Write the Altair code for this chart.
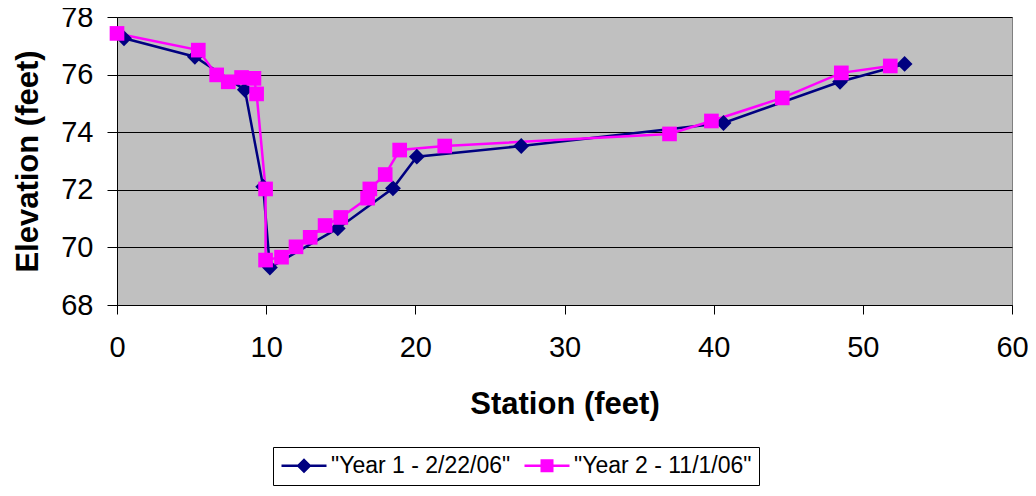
import altair as alt
import pandas as pd

series_names = ['"Year 1 - 2/22/06"', '"Year 2 - 11/1/06"']
series_colors = ["#000080", "#FF00FF"]

y1_station = [0.47, 5.22, 8.57, 9.8, 10.25, 14.8, 18.5, 20.1, 27.1, 40.66, 48.47, 52.8]
y1_elev = [77.26, 76.62, 75.47, 72.11, 69.3, 70.66, 72.05, 73.15, 73.52, 74.32, 75.75, 76.37]

y2_station = [0.0, 5.45, 6.68, 7.46, 8.35, 9.18, 9.36, 9.96, 9.96, 11.03, 12.0, 12.95,
              13.95, 15.0, 16.8, 16.95, 17.98, 18.95, 21.97, 37.04, 39.85, 44.6, 48.56, 51.84]
y2_elev = [77.43, 76.85, 75.99, 75.75, 75.9, 75.87, 75.33, 72.03, 69.56, 69.66, 70.02, 70.35,
           70.76, 71.04, 71.71, 72.03, 72.53, 73.38, 73.52, 73.94, 74.39, 75.19, 76.06, 76.3]

x_ticks = [0, 10, 20, 30, 40, 50, 60]
y_ticks = [68, 70, 72, 74, 76, 78]

FONT = "Liberation Sans, Arial, sans-serif"

rows = []
for i, (s, e) in enumerate(zip(y1_station, y1_elev)):
    rows.append({"series": series_names[0], "station": s, "elev": e, "idx": i})
for i, (s, e) in enumerate(zip(y2_station, y2_elev)):
    rows.append({"series": series_names[1], "station": s, "elev": e, "idx": i})
df = pd.DataFrame(rows)

# legend-only rows (no position -> not drawn in the plot)
legend_df = pd.DataFrame({"series": series_names})

# legend symbol paths (unit = 10 px at symbol size 400): a line segment with a marker
legend_paths = [
    "M-1,-0.12H3.5V0.12H-1Z M1.25,-0.75L2,0L1.25,0.75L0.5,0Z",
    "M-1,-0.12H3.5V0.12H-1Z M0.6,-0.65H1.9V0.65H0.6Z",
]

# data-driven domain (sorted), so it is not merged with the legend scales
color_scale = alt.Scale(range=series_colors)

x_enc = alt.X(
    "station:Q",
    scale=alt.Scale(domain=[0, 60], nice=False, zero=False),
    axis=alt.Axis(values=x_ticks, title="Station (feet)", grid=False, labelFlush=False,
                  tickSize=9, labelPadding=19, titlePadding=27,
                  labelFontSize=29, titleFontSize=31, titleFontWeight="bold",
                  labelFont=FONT, titleFont=FONT),
)
y_enc = alt.Y(
    "elev:Q",
    scale=alt.Scale(domain=[68, 78], nice=False, zero=False),
    axis=alt.Axis(values=y_ticks, title="Elevation (feet)", grid=True, labelFlush=False,
                  gridColor="black", gridWidth=1,
                  tickSize=10, labelPadding=14, titlePadding=16,
                  labelFontSize=29, titleFontSize=31, titleFontWeight="bold",
                  labelFont=FONT, titleFont=FONT),
)

base = alt.Chart(df)

lines = base.mark_line(strokeWidth=2.5).encode(
    x=x_enc, y=y_enc,
    color=alt.Color("series:N", scale=color_scale, legend=None),
    order="idx:Q",
)

pts1 = base.transform_filter(alt.datum.series == series_names[0]).mark_point(
    shape="diamond", filled=True, size=250, opacity=1
).encode(x=x_enc, y=y_enc, color=alt.Color("series:N", scale=color_scale, legend=None))

pts2 = base.transform_filter(alt.datum.series == series_names[1]).mark_point(
    shape="square", filled=True, size=215, opacity=1
).encode(x=x_enc, y=y_enc, color=alt.Color("series:N", scale=color_scale, legend=None))

leg = alt.Legend(
    orient="none", legendX=156, legendY=430, direction="horizontal", title=None,
    labelFontSize=23, labelFont=FONT, labelColor="black", labelOffset=28, labelLimit=0,
    strokeColor="black", fillColor="white", padding=7, columnPadding=12,
    symbolSize=400, symbolStrokeWidth=0, symbolOpacity=1,
)

legend_layer = alt.Chart(legend_df).mark_point(
    filled=True, size=400, opacity=1
).encode(
    fill=alt.Fill("series:N", scale=alt.Scale(domain=series_names, range=series_colors), legend=leg),
    shape=alt.Shape("series:N", scale=alt.Scale(domain=series_names, range=legend_paths), legend=leg),
    x=alt.value(-500), y=alt.value(-500),
)

chart = alt.layer(lines, pts1, pts2, legend_layer).properties(
    width=895, height=288,
    autosize=alt.AutoSizeParams(type="none"),
    padding={"left": 109, "top": 9, "right": 16, "bottom": 183},
).configure_view(
    fill="#C0C0C0", stroke="#808080", strokeWidth=1
).configure_axis(
    domainColor="black", tickColor="black", labelColor="black", titleColor="black",
    domainWidth=1, tickWidth=1,
)

chart.save("out.html", embed_options={"renderer": "svg", "actions": False})
